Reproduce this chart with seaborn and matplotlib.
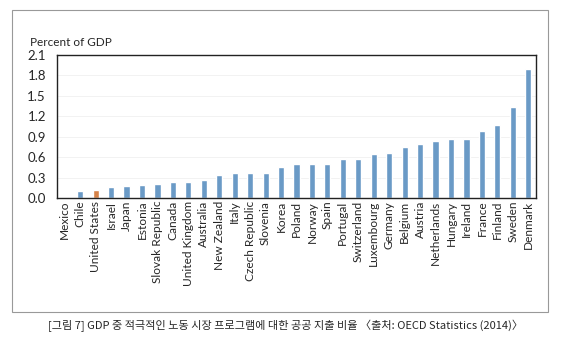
import numpy as np
import pandas as pd
import matplotlib
matplotlib.use("Agg")
import matplotlib.pyplot as plt
import seaborn as sns

# Data
countries = ["Mexico", "Chile", "United States", "Israel", "Japan", "Estonia",
             "Slovak Republic", "Canada", "United Kingdom", "Australia",
             "New Zealand", "Italy", "Czech Republic", "Slovenia", "Korea",
             "Poland", "Norway", "Spain", "Portugal", "Switzerland",
             "Luxembourg", "Germany", "Belgium", "Austria", "Netherlands",
             "Hungary", "Ireland", "France", "Finland", "Sweden", "Denmark"]
spending = [0.01, 0.11, 0.12, 0.16, 0.18, 0.19, 0.21, 0.23, 0.24, 0.26,
            0.34, 0.36, 0.37, 0.37, 0.45, 0.50, 0.50, 0.50, 0.57, 0.57,
            0.65, 0.66, 0.75, 0.80, 0.83, 0.86, 0.86, 0.99, 1.07, 1.33, 1.90]
highlight = "United States"
y_ticks = [0.0, 0.3, 0.6, 0.9, 1.2, 1.5, 1.8, 2.1]

caption = "[그림 7] GDP 중 적극적인 노동 시장 프로그램에 대한 공공 지출 비율 〈출처: OECD Statistics (2014)〉"

df = pd.DataFrame({"country": countries, "value": spending})
df["group"] = np.where(df["country"] == highlight, "hl", "other")

sns.set_style("white")
plt.rcParams["font.family"] = ["Lato", "DejaVu Sans"]

fig = plt.figure(figsize=(5.7, 3.55), dpi=100)
ax = fig.add_axes([57 / 570, 1 - 198 / 355, (536 - 57) / 570, (198 - 55) / 355])

sns.barplot(data=df, x="country", y="value", hue="group",
            palette={"hl": "#ED7D31", "other": "#5B9BD5"},
            width=0.4, dodge=False, legend=False, ax=ax)

ax.set_ylim(0, 2.1)
ax.set_yticks(y_ticks)
ax.set_yticklabels([f"{t:.1f}" for t in y_ticks], fontsize=9.5)
ax.set_xlim(-0.5, len(countries) - 0.5)
ax.set_xticks(range(len(countries)))
ax.set_xticklabels(countries, rotation=90, fontsize=8.6)
ax.tick_params(axis="x", length=0, pad=2)
ax.tick_params(axis="y", direction="in", length=2, width=0.6, pad=8)
ax.set_xticks(np.arange(0.5, len(countries) - 1, 1), minor=True)
ax.tick_params(axis="x", which="minor", direction="in", length=2, width=0.6)
ax.set_xlabel("")
ax.set_ylabel("")
ax.yaxis.grid(True, color="#f0f0f0", linewidth=0.6)
ax.set_axisbelow(True)
for s in ax.spines.values():
    s.set_visible(True)
    s.set_color("#222222")
    s.set_linewidth(1.0)

fig.text(30 / 570, 1 - 43 / 355, "Percent of GDP", fontsize=8.5, va="center", ha="left")

# outer frame
frame = plt.Rectangle((12 / 570, 1 - 312 / 355), (548 - 12) / 570, (312 - 10) / 355,
                      transform=fig.transFigure, fill=False, edgecolor="#999999", linewidth=0.8)
fig.patches.append(frame)

fig.text(0.5, 1 - 326 / 355, caption, fontsize=8, ha="center", va="center",
         family=["Noto Sans CJK KR", "DejaVu Sans"])

fig.savefig("out.png", dpi=100)
